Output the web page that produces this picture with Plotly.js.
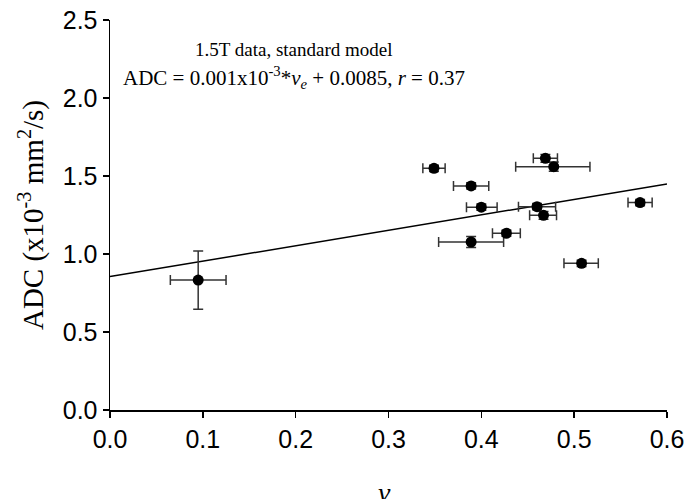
<!DOCTYPE html>
<html>
<head>
<meta charset="utf-8">
<script src="https://cdn.plot.ly/plotly-3.0.1.min.js"></script>
<style>html,body{margin:0;padding:0;background:#fff;}#chart{width:694px;height:499px;}</style>
</head>
<body>
<div id="chart"></div>
<script>
// Data
const ve      = [0.095, 0.349, 0.389, 0.400, 0.389, 0.427, 0.469, 0.478, 0.460, 0.467, 0.508, 0.571];
const adc     = [0.833, 1.549, 1.436, 1.300, 1.077, 1.133, 1.613, 1.560, 1.303, 1.248, 0.940, 1.330];
const veErrM  = [0.030, 0.012, 0.019, 0.016, 0.035, 0.015, 0.013, 0.041, 0.020, 0.015, 0.019, 0.013];
const veErrP  = [0.030, 0.012, 0.019, 0.017, 0.035, 0.015, 0.013, 0.039, 0.020, 0.014, 0.018, 0.013];
const adcErr  = [0.187, 0.020, 0.020, 0.020, 0.035, 0.020, 0.025, 0.030, 0.020, 0.025, 0.020, 0.020];
const fitX    = [0.0, 0.6];
const fitY    = [0.855, 1.449];
const xTicks  = [0, 0.1, 0.2, 0.3, 0.4, 0.5, 0.6];
const yTicks  = [0, 0.5, 1.0, 1.5, 2.0, 2.5];

const traces = [
  {
    x: fitX, y: fitY, mode: 'lines', type: 'scatter',
    line: {color: '#000', width: 1.5}, hoverinfo: 'skip', showlegend: false
  },
  {
    x: ve, y: adc, mode: 'markers', type: 'scatter', showlegend: false,
    marker: {color: '#000', size: 11},
    error_x: {type: 'data', array: veErrP, arrayminus: veErrM, symmetric: false,
              color: '#333', thickness: 1.5, width: 5},
    error_y: {type: 'data', array: adcErr, color: '#333', thickness: 1.5, width: 5}
  }
];

const serif = 'Liberation Serif, Times New Roman, serif';
const sans = 'Liberation Sans, Arial, sans-serif';

const layout = {
  width: 694, height: 499,
  margin: {l: 110, r: 27, t: 20, b: 89},
  paper_bgcolor: '#fff', plot_bgcolor: '#fff',
  showlegend: false,
  xaxis: {
    range: [0, 0.6], tickvals: xTicks, tickformat: '.1f',
    showgrid: false, zeroline: false, showline: true, linecolor: '#000', linewidth: 1.5,
    ticks: 'outside', ticklen: 6, tickwidth: 1.5, tickcolor: '#000',
    tickfont: {family: sans, size: 25, color: '#000'}
  },
  yaxis: {
    range: [0, 2.5], tickvals: yTicks, tickformat: '.1f',
    showgrid: false, zeroline: false, showline: true, linecolor: '#000', linewidth: 1.5,
    ticks: 'outside', ticklen: 6, tickwidth: 1.5, tickcolor: '#000',
    tickfont: {family: sans, size: 25, color: '#000'},
    title: {text: 'ADC (x10<sup>-3</sup> mm<sup>2</sup>/s)', standoff: 10,
            font: {family: serif, size: 29, color: '#000'}}
  },
  annotations: [
    {text: '1.5T data, standard model', xref: 'paper', yref: 'paper',
     x: 0.33, y: 0.925, xanchor: 'center', yanchor: 'middle', showarrow: false,
     font: {family: serif, size: 19, color: '#000'}},
    {text: 'ADC = 0.001x10<sup>-3</sup>*<i>v</i><sub><i>e</i></sub> + 0.0085, <i>r</i> = 0.37',
     xref: 'paper', yref: 'paper', x: 0.02, y: 0.853, xanchor: 'left', yanchor: 'middle',
     showarrow: false,
     font: {family: serif, size: 21, color: '#000'}},
    {text: '<i>v</i><sub><i>e</i></sub>', xref: 'paper', yref: 'paper',
     x: 0.5, y: -0.167, xanchor: 'center', yanchor: 'top', showarrow: false,
     font: {family: serif, size: 28, color: '#000'}}
  ]
};

Plotly.newPlot('chart', traces, layout, {staticPlot: true, displayModeBar: false});
</script>
</body>
</html>
